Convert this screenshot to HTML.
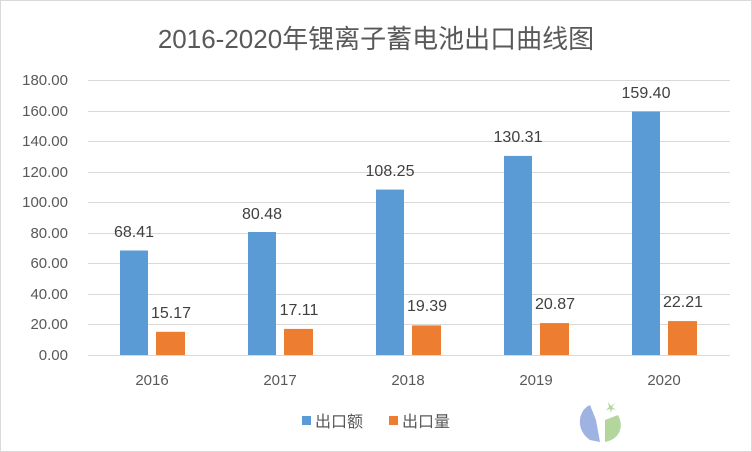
<!DOCTYPE html><html><head><meta charset="utf-8"><style>
body{margin:0;background:#fff}
svg{display:block}
text{font-family:"Liberation Sans","Noto Sans CJK SC",sans-serif;fill:#595959}
</style></head><body>
<svg width="752" height="452" xmlns="http://www.w3.org/2000/svg">
<rect x="0.5" y="0.5" width="751" height="451" fill="#fff" stroke="#d9d9d9"/>
<text x="376" y="48" font-size="26" text-anchor="middle" fill="#595959" style="fill:#595959">2016-2020年锂离子蓄电池出口曲线图</text>
<g stroke="#d9d9d9" stroke-width="1">
<line x1="88" x2="730" y1="80.5" y2="80.5"/><line x1="88" x2="730" y1="111.5" y2="111.5"/><line x1="88" x2="730" y1="141.5" y2="141.5"/><line x1="88" x2="730" y1="172.5" y2="172.5"/><line x1="88" x2="730" y1="202.5" y2="202.5"/><line x1="88" x2="730" y1="233.5" y2="233.5"/><line x1="88" x2="730" y1="263.5" y2="263.5"/><line x1="88" x2="730" y1="294.5" y2="294.5"/><line x1="88" x2="730" y1="324.5" y2="324.5"/><line x1="88" x2="730" y1="355.5" y2="355.5"/>
</g>
<g font-size="15" text-anchor="end">
<text x="68" y="85">180.00</text><text x="68" y="116">160.00</text><text x="68" y="146">140.00</text><text x="68" y="177">120.00</text><text x="68" y="207">100.00</text><text x="68" y="238">80.00</text><text x="68" y="268">60.00</text><text x="68" y="299">40.00</text><text x="68" y="329">20.00</text><text x="68" y="360">0.00</text>
</g>
<g fill="#5b9bd5">
<rect x="120" y="250.5" width="28" height="104.5"/><rect x="248" y="232" width="28" height="123"/><rect x="376" y="189.6" width="28" height="165.4"/><rect x="504" y="155.9" width="28" height="199.1"/><rect x="632" y="111.5" width="28" height="243.5"/>
</g>
<g fill="#ed7d31">
<rect x="156" y="331.8" width="29" height="23.2"/><rect x="284" y="328.9" width="29" height="26.1"/><rect x="412" y="325.4" width="29" height="29.6"/><rect x="540" y="323.1" width="29" height="31.9"/><rect x="668" y="321.1" width="29" height="33.9"/>
</g>
<g font-size="16" text-anchor="middle" style="fill:#404040">
<text x="134" y="237" style="fill:#404040">68.41</text><text x="262" y="219" style="fill:#404040">80.48</text><text x="390" y="176" style="fill:#404040">108.25</text><text x="518" y="142" style="fill:#404040">130.31</text><text x="646" y="98" style="fill:#404040">159.40</text>
<text x="171" y="318" style="fill:#404040">15.17</text><text x="299" y="315" style="fill:#404040">17.11</text><text x="427" y="311" style="fill:#404040">19.39</text><text x="555" y="309" style="fill:#404040">20.87</text><text x="683" y="307" style="fill:#404040">22.21</text>
</g>
<g font-size="15" text-anchor="middle">
<text x="152" y="385">2016</text><text x="280" y="385">2017</text><text x="408" y="385">2018</text><text x="536" y="385">2019</text><text x="664" y="385">2020</text>
</g>
<rect x="302" y="416" width="9" height="9" fill="#5b9bd5"/>
<text x="315" y="427" font-size="16">出口额</text>
<rect x="389" y="416" width="9" height="9" fill="#ed7d31"/>
<text x="402" y="427" font-size="16">出口量</text>
<g opacity="0.85">
<path d="M590 405 C578 410 575 430 590 440 L600 442 L596 420 Z" fill="#8ea6dc"/>
<path d="M605 420 L605 442 C618 440 625 428 618 415 Z" fill="#a6d08c"/>
<path d="M608 402 l3 4 l4 -3 l-3 4 l4 3 l-4 -1 l-1 4 l-1 -4 l-4 1 l3 -3 Z" fill="#a6d08c"/>
</g>
</svg>
</body></html>
